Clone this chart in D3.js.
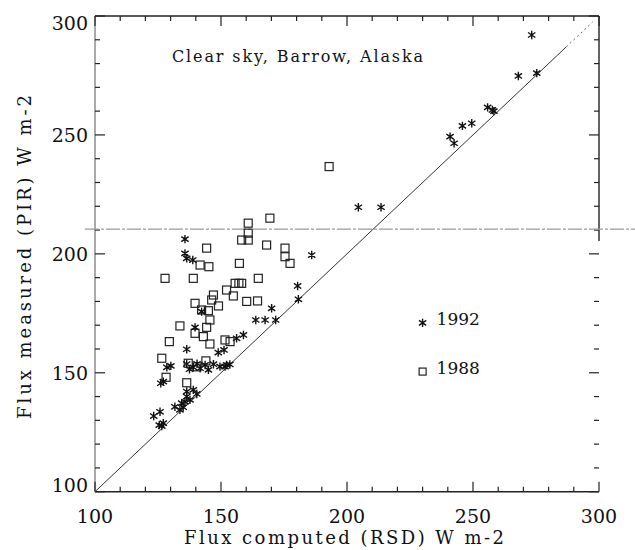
<!DOCTYPE html>
<html>
<head>
<meta charset="utf-8">
<script src="https://cdn.jsdelivr.net/npm/d3@7"></script>
<style>
  body { margin: 0; background: #fff; }
  text { font-family: "DejaVu Serif", "Liberation Serif", serif; fill: #111; }
</style>
</head>
<body>
<svg id="chart" width="635" height="550"></svg>
<script>
// Values (W m-2)
var xTicks = [100, 150, 200, 250, 300];
var yTicks = [100, 150, 200, 250, 300];

// 1992 points (asterisks): [computed, measured]
var points1992 = [
    [273.3, 292.0], [268.0, 274.8], [275.3, 276.0], [255.8, 261.6], [257.7, 260.5],
    [258.3, 260.0], [245.8, 253.8], [249.5, 254.9], [240.9, 249.3], [242.5, 246.5],
    [204.5, 219.6], [213.5, 219.6], [186.0, 199.5], [180.4, 186.5], [180.7, 180.9],
    [170.1, 177.1], [163.8, 172.2], [167.5, 172.2], [171.7, 172.2], [156.2, 164.5],
    [158.9, 165.9], [152.2, 153.3], [148.9, 158.5], [151.2, 159.6],
    [135.7, 206.2], [135.7, 200.2], [136.4, 198.1], [138.8, 197.4], [142.3, 175.7],
    [139.7, 169.1], [136.4, 159.9], [128.5, 152.3], [130.1, 152.9], [126.1, 145.6],
    [127.1, 146.3], [136.4, 153.7], [137.5, 151.5], [139.0, 152.3], [140.5, 153.8],
    [141.7, 151.9], [143.7, 153.3], [145.0, 151.2], [147.0, 153.6], [149.6, 152.6],
    [151.6, 152.6], [153.5, 153.5], [131.7, 135.7], [133.7, 134.4], [134.4, 137.2],
    [135.7, 137.8], [136.4, 140.0], [137.7, 138.6], [140.4, 141.1], [136.4, 142.1],
    [139.0, 142.8], [135.0, 135.5], [123.3, 131.8], [125.8, 133.6], [125.5, 128.0],
    [127.1, 128.8], [126.5, 127.6]
];

// 1988 points (squares)
var points1988 = [
    [192.9, 236.7], [160.8, 212.9], [160.8, 208.7], [160.8, 205.8], [158.2, 205.8],
    [169.4, 215.0], [168.1, 203.7], [144.3, 202.4], [141.7, 195.3], [145.2, 194.6],
    [157.3, 196.0], [175.4, 202.4], [175.4, 198.8], [177.4, 196.0], [127.8, 189.7],
    [139.0, 189.7], [164.8, 189.7], [155.6, 187.6], [157.1, 187.6], [158.2, 187.6],
    [152.2, 184.8], [154.9, 182.3], [147.0, 182.7], [146.3, 180.6], [139.7, 179.2],
    [149.0, 178.1], [160.2, 180.0], [164.5, 180.2], [142.3, 176.4], [145.0, 176.1],
    [145.6, 172.2], [133.7, 169.7], [139.7, 166.6], [144.3, 169.1], [143.0, 165.2],
    [145.6, 162.1], [129.5, 163.1], [151.6, 163.8], [153.6, 163.1], [126.5, 156.1],
    [128.2, 148.1], [136.4, 145.8], [137.0, 154.0], [140.5, 152.5], [144.0, 155.0]
];

// Legend entries: [x, y, label, symbol]
var legendItems = [
    [230, 171, "1992", "star"],
    [230, 150.5, "1988", "square"]
];

// Faint horizontal line across the scan
var scanLineY = 210.4;

var svg = d3.select("#chart"),
    width = +svg.attr("width"),
    height = +svg.attr("height");

var x = d3.scaleLinear().domain([100, 300]).range([95, 599]);
var y = d3.scaleLinear().domain([100, 300]).range([491.7, 16]);

var minor = d3.range(100, 301, 10);

// Frame: top, bottom, left, right (right edge only down to the scan line)
var frame = svg.append("g").attr("class", "frame")
    .attr("stroke", "#222").attr("fill", "none");
frame.append("line").attr("x1", x(100)).attr("x2", x(300)).attr("y1", y(300)).attr("y2", y(300)).attr("stroke-width", 1.4);
frame.append("line").attr("x1", x(100)).attr("x2", x(300)).attr("y1", y(100)).attr("y2", y(100)).attr("stroke-width", 1.4);
frame.append("line").attr("x1", x(100)).attr("x2", x(100)).attr("y1", y(100)).attr("y2", y(300)).attr("stroke-width", 1).attr("stroke", "#555");
frame.append("line").attr("x1", x(300)).attr("x2", x(300)).attr("y1", y(300)).attr("y2", y(scanLineY) + 12).attr("stroke-width", 1.4);

// Inward ticks on all four sides
function tickLen(v) { return v % 50 === 0 ? 10 : 5; }
var ticks = svg.append("g").attr("class", "ticks").attr("stroke", "#222").attr("stroke-width", 1.2);
minor.forEach(function (v) {
    ticks.append("line").attr("x1", x(v)).attr("x2", x(v)).attr("y1", y(100)).attr("y2", y(100) - tickLen(v));
    ticks.append("line").attr("x1", x(v)).attr("x2", x(v)).attr("y1", y(300)).attr("y2", y(300) + tickLen(v));
    ticks.append("line").attr("y1", y(v)).attr("y2", y(v)).attr("x1", x(100)).attr("x2", x(100) + tickLen(v));
    ticks.append("line").attr("y1", y(v)).attr("y2", y(v)).attr("x1", x(300)).attr("x2", x(300) - tickLen(v));
});

// Tick labels
svg.append("g").selectAll("text").data(xTicks).enter().append("text")
    .attr("x", function (d) { return x(d); })
    .attr("y", 523)
    .attr("text-anchor", "middle")
    .attr("font-size", 19)
    .text(function (d) { return d; });

svg.append("g").selectAll("text").data(yTicks).enter().append("text")
    .attr("x", 88)
    .attr("y", function (d) { return Math.min(Math.max(y(d), y(300) + 7), y(100) - 7); })
    .attr("dy", "0.36em")
    .attr("text-anchor", "end")
    .attr("font-size", 19)
    .text(function (d) { return d; });

// Axis titles
svg.append("text")
    .attr("x", 344).attr("y", 544)
    .attr("text-anchor", "middle")
    .attr("font-size", 18)
    .attr("textLength", 320).attr("lengthAdjust", "spacing")
    .text("Flux computed (RSD) W m-2");

svg.append("text")
    .attr("transform", "translate(31,257) rotate(-90)")
    .attr("text-anchor", "middle")
    .attr("font-size", 18)
    .attr("textLength", 324).attr("lengthAdjust", "spacing")
    .text("Flux measured (PIR) W m-2");

svg.append("text")
    .attr("x", 172).attr("y", 62)
    .attr("font-size", 16)
    .attr("textLength", 251).attr("lengthAdjust", "spacing")
    .text("Clear sky, Barrow, Alaska");

// Scan line
svg.append("line")
    .attr("x1", x(96)).attr("x2", width)
    .attr("y1", y(scanLineY)).attr("y2", y(scanLineY))
    .attr("stroke", "#999").attr("stroke-width", 1.2)
    .attr("stroke-dasharray", "14,2,3,2");

// 1:1 line
svg.append("line")
    .attr("x1", x(100)).attr("y1", y(100)).attr("x2", x(287)).attr("y2", y(287))
    .attr("stroke", "#333").attr("stroke-width", 1);
svg.append("line")
    .attr("x1", x(287)).attr("y1", y(287)).attr("x2", x(297.5)).attr("y2", y(297.5))
    .attr("stroke", "#666").attr("stroke-width", 1).attr("stroke-dasharray", "2,3");

// Symbols
var r = 4.2;
var starPath = "M0," + (-r) + "L0," + r +
    "M" + (-r * 0.87) + "," + (-r * 0.6) + "L" + (r * 0.87) + "," + (r * 0.6) +
    "M" + (-r * 0.87) + "," + (r * 0.6) + "L" + (r * 0.87) + "," + (-r * 0.6);

function drawStars(g, data) {
    g.selectAll("path").data(data).enter().append("path")
        .attr("d", starPath)
        .attr("transform", function (d) { return "translate(" + x(d[0]) + "," + y(d[1]) + ")"; })
        .attr("stroke", "#111").attr("stroke-width", 1.4).attr("fill", "none");
}

function drawSquares(g, data, s) {
    g.selectAll("rect").data(data).enter().append("rect")
        .attr("x", function (d) { return x(d[0]) - s / 2; })
        .attr("y", function (d) { return y(d[1]) - s / 2; })
        .attr("width", s).attr("height", s)
        .attr("stroke", "#222").attr("stroke-width", 1.2).attr("fill", "none");
}

drawSquares(svg.append("g").attr("class", "y1988"), points1988, 8);
drawStars(svg.append("g").attr("class", "y1992"), points1992);

// Legend
var legend = svg.append("g").attr("class", "legend");
legendItems.forEach(function (item) {
    var g = legend.append("g");
    if (item[3] === "star") {
        drawStars(g, [[item[0], item[1]]]);
    } else {
        drawSquares(g, [[item[0], item[1]]], 7);
    }
    g.append("text")
        .attr("x", x(item[0]) + 14)
        .attr("y", y(item[1]) + 2)
        .attr("font-size", 17)
        .text(item[2]);
});
</script>
</body>
</html>
